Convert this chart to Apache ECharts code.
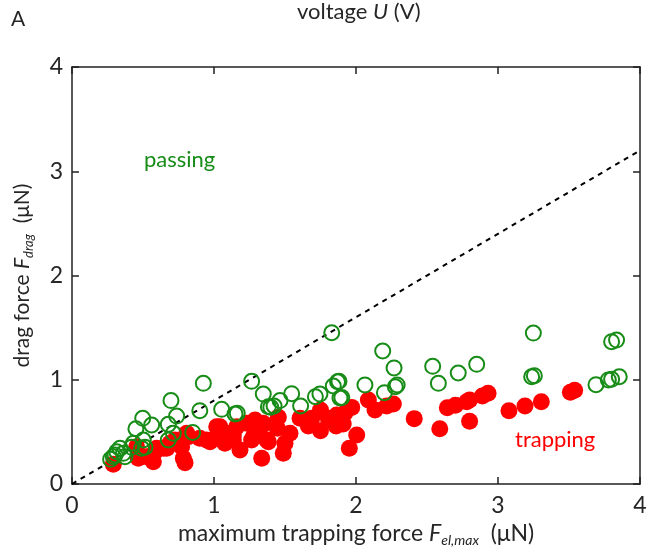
<!DOCTYPE html>
<html>
<head>
<meta charset="utf-8">
<script src="https://cdn.jsdelivr.net/npm/echarts@6/dist/echarts.min.js"></script>
<style>html,body{margin:0;padding:0;background:#fff}#c{width:651px;height:548px}</style>
</head>
<body>
<div id="c"></div>
<script>
// ---- data ----
var xTicks = [0, 1, 2, 3, 4];
var yTicks = [0, 1, 2, 3, 4];
var refLine = [[0, 0], [4, 3.2]];
var passing = [
  [0.272,0.237],[0.291,0.262],[0.303,0.278],[0.315,0.31],[0.338,0.342],[0.362,0.294],[0.373,0.262],
  [0.42,0.352],[0.432,0.39],[0.45,0.53],[0.49,0.342],[0.514,0.352],[0.502,0.422],[0.498,0.63],[0.561,0.566],
  [0.678,0.572],[0.697,0.80],[0.737,0.652],[0.678,0.422],[0.714,0.486],[0.85,0.495],[0.90,0.703],
  [0.925,0.966],[1.054,0.716],[1.148,0.672],[1.164,0.678],[1.265,0.985],[1.347,0.863],[1.383,0.742],
  [1.40,0.736],[1.423,0.748],[1.465,0.80],[1.547,0.866],[1.61,0.748],[1.714,0.838],[1.746,0.863],
  [1.829,1.451],[1.84,0.94],[1.87,0.98],[1.88,0.985],[1.887,0.825],[1.90,0.83],[2.063,0.950],
  [2.188,1.276],[2.20,0.876],[2.268,1.113],[2.277,0.933],[2.29,0.95],[2.54,1.129],[2.58,0.966],
  [2.72,1.065],[2.85,1.148],[3.237,1.029],[3.256,1.039],[3.249,1.448],[3.69,0.953],[3.777,0.998],
  [3.80,1.004],[3.854,1.029],[3.80,1.365],[3.835,1.381]
];
var trapping = [
  [0.291,0.19],[0.467,0.246],[0.455,0.358],[0.526,0.262],[0.573,0.214],[0.585,0.31],[0.596,0.342],
  [0.643,0.342],[0.667,0.342],[0.69,0.39],[0.725,0.422],[0.772,0.358],[0.784,0.246],[0.796,0.205],
  [0.808,0.486],[0.819,0.454],[0.90,0.438],[0.948,0.422],[0.972,0.406],[1.019,0.55],[1.03,0.486],
  [1.042,0.55],[1.077,0.39],[1.089,0.486],[1.136,0.422],[1.136,0.47],[1.16,0.55],[1.183,0.326],
  [1.23,0.582],[1.265,0.422],[1.277,0.454],[1.289,0.614],[1.31,0.518],[1.336,0.246],[1.343,0.566],
  [1.347,0.582],[1.371,0.422],[1.383,0.406],[1.446,0.534],[1.453,0.64],[1.488,0.294],[1.50,0.39],
  [1.535,0.486],[1.606,0.63],[1.664,0.556],[1.688,0.63],[1.75,0.71],[1.75,0.511],[1.805,0.63],
  [1.86,0.556],[1.864,0.662],[1.91,0.575],[1.92,0.678],[1.953,0.342],[1.97,0.735],[2.005,0.47],
  [2.087,0.806],[2.134,0.71],[2.216,0.748],[2.263,0.767],[2.41,0.627],[2.59,0.53],[2.643,0.732],
  [2.70,0.755],[2.78,0.79],[2.80,0.806],[2.80,0.601],[2.89,0.844],[2.93,0.87],[3.077,0.703],
  [3.19,0.748],[3.305,0.79],[3.51,0.88],[3.54,0.90]
];

// ---- chart ----
var FONT = 'Lato, "Open Sans", sans-serif';
var TXT = '#262626';
var chart = echarts.init(document.getElementById('c'));
function axisBase(showLabel) {
  return {
    type: 'value', min: xTicks[0], max: xTicks[xTicks.length - 1], interval: 1,
    axisLine: { show: true, onZero: false, lineStyle: { color: '#222', width: 1.5 } },
    axisTick: { show: true, inside: true, length: 7, lineStyle: { color: '#222', width: 1.5 } },
    axisLabel: { show: showLabel, color: TXT, fontSize: 23, fontFamily: FONT },
    splitLine: { show: false }
  };
}
var xb = axisBase(true);
xb.position = 'bottom';
xb.axisLabel.margin = 10;
xb.name = '{n|maximum trapping force }{i|F}{s|el,max}{n|  (μN)}';
xb.nameLocation = 'middle';
xb.nameGap = 30;
xb.nameTextStyle = { rich: {
  n: { fontSize: 23, color: TXT, fontFamily: FONT },
  i: { fontSize: 23, color: TXT, fontFamily: FONT, fontStyle: 'italic' },
  s: { fontSize: 14, color: TXT, fontFamily: FONT, fontStyle: 'italic', verticalAlign: 'bottom', padding: [14, 0, 0, 0] }
} };
var xt = axisBase(false); xt.position = 'top';
var yl = axisBase(true);
yl.min = yTicks[0]; yl.max = yTicks[yTicks.length - 1];
yl.position = 'left';
yl.axisLabel.margin = 9;
yl.name = '{n|drag force }{i|F}{s|drag}{n|  (μN)}';
yl.nameLocation = 'middle';
yl.nameGap = 37;
yl.nameTextStyle = { rich: {
  n: { fontSize: 21, color: TXT, fontFamily: FONT },
  i: { fontSize: 21, color: TXT, fontFamily: FONT, fontStyle: 'italic' },
  s: { fontSize: 13, color: TXT, fontFamily: FONT, fontStyle: 'italic', verticalAlign: 'bottom', padding: [12, 0, 0, 0] }
} };
var yr = axisBase(false); yr.min = yTicks[0]; yr.max = yTicks[yTicks.length - 1]; yr.position = 'right';

chart.setOption({
  animation: false,
  grid: { left: 72, right: 11, top: 67, bottom: 64, containLabel: false, outerBoundsMode: 'none' },
  xAxis: [xb, xt],
  yAxis: [yl, yr],
  graphic: [
    { type: 'text', left: 11, top: 9, style: { text: 'A', fontSize: 21, fill: TXT, fontFamily: FONT } },
    { type: 'text', left: 297, top: 1, style: {
      text: '{n|voltage }{i|U}{n| (V)}',
      rich: {
        n: { fontSize: 22, fill: TXT, fontFamily: FONT },
        i: { fontSize: 22, fill: TXT, fontFamily: FONT, fontStyle: 'italic' }
      } } },
    { type: 'text', left: 144, top: 149, style: { text: 'passing', fontSize: 22, fill: '#178c17', fontFamily: FONT } },
    { type: 'text', left: 515, top: 429, style: { text: 'trapping', fontSize: 22, fill: '#ff0000', fontFamily: FONT } }
  ],
  series: [
    { type: 'line', data: refLine, symbol: 'none', silent: true, z: 1,
      lineStyle: { color: '#000', width: 2, type: [5, 5] } },
    { type: 'scatter', data: trapping, symbol: 'circle', symbolSize: 17, z: 2,
      itemStyle: { color: '#ff0000', opacity: 1 } },
    { type: 'scatter', data: passing, symbol: 'circle', symbolSize: 15, z: 3,
      itemStyle: { color: 'rgba(0,0,0,0)', borderColor: '#178c17', borderWidth: 2, opacity: 1 } }
  ]
});
</script>
</body>
</html>
